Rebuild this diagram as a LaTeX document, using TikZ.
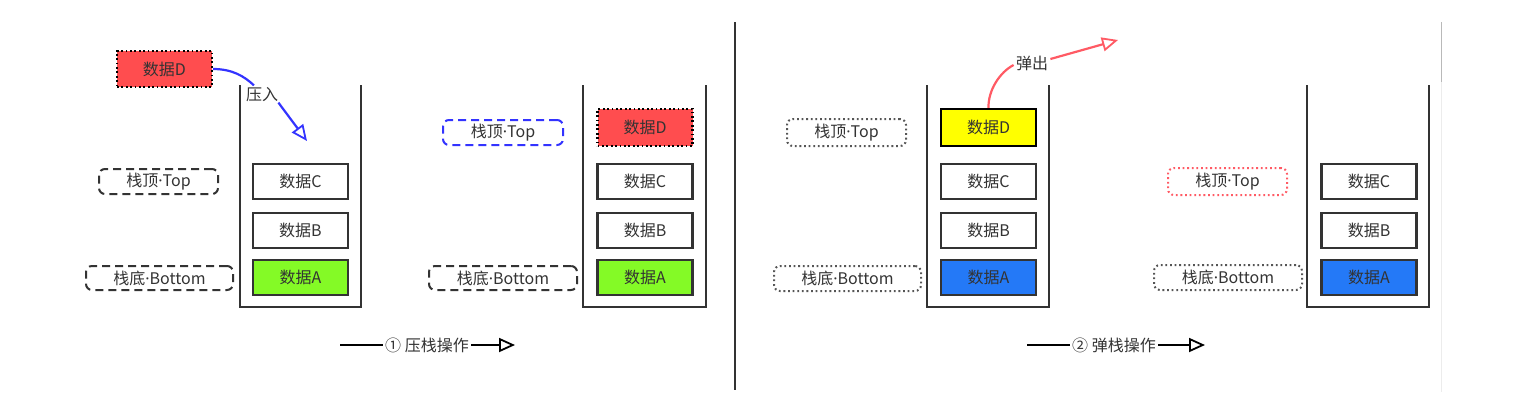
\documentclass[tikz,border=0pt]{standalone}
\usepackage{fontspec}
\newfontfamily\cjk{Noto Sans CJK SC}
\newfontfamily\lat{Noto Sans}
\usetikzlibrary{arrows.meta}
\definecolor{ink}{HTML}{333333}
\definecolor{dred}{HTML}{FF4D4F}
\definecolor{dgreen}{HTML}{84FA26}
\definecolor{dblue}{HTML}{2479F7}
\definecolor{dyellow}{HTML}{FFFF00}
\definecolor{pushblue}{HTML}{3333FF}
\definecolor{popred}{HTML}{FF5A64}
\definecolor{dotgray}{HTML}{555555}
\tikzset{
  every node/.style={font=\cjk\fontsize{8}{9.6}\selectfont, text=ink},
  databox/.style={draw=ink, line width=1.2pt, minimum width=47.5pt, minimum height=17.5pt, inner sep=0pt, fill=white},
  redbox/.style={databox, fill=dred, draw=black, dash pattern=on 0.9pt off 1.3pt, line width=1.1pt},
  container/.style={draw=ink, line width=1.2pt},
  lbl/.style={rounded corners=3pt, line width=1pt, minimum height=12.5pt, inner sep=0pt},
  dashlbl/.style={lbl, draw=ink, dash pattern=on 4pt off 2.5pt},
  dotlbl/.style={lbl, draw=dotgray, dash pattern=on 0.9pt off 1.4pt, minimum height=13.5pt},
  opentip/.style={-{Triangle[open, length=8pt, width=7pt, line width=0.9pt]}},
  oparrow/.style={draw=black, line width=0.8pt},
}
\begin{document}
\begin{tikzpicture}[x=0.5pt,y=-0.5pt]
\useasboundingbox (0,0) rectangle (1530,404);
% divider and right edge
\draw[ink, line width=1.2pt] (735,22) -- (735,390);
\draw[gray!55, line width=0.5pt] (1441,22) -- (1441,82);
\draw[gray!15, line width=0.5pt] (1441,82) -- (1441,392);

% ---------- stack 1 ----------
\draw[container] (240,85) |- (361,307) -- (361,85);
\node[databox] (s1c) at (300.5,181.5) {数据C};
\node[databox] (s1b) at (300.5,230.5) {数据B};
\node[databox, fill=dgreen] (s1a) at (300.5,277.5) {数据A};
\node[redbox, minimum height=18pt] (s1d) at (164.5,69) {数据D};
\node[dashlbl, minimum width=59.5pt] (s1top) at (158.5,181.5) {栈顶{\lat ·}Top};
\node[dashlbl, minimum width=73.5pt, minimum height=12pt] (s1bot) at (159.5,278) {栈底{\lat ·}Bottom};
\node[inner sep=1pt] (plbl) at (262,95) {压入};
\coordinate (ptip) at (307,141);
\draw[pushblue, line width=1.1pt] (s1d.east) .. controls (232,69) and (244,76) .. ([xshift=-4pt]plbl.north);
\draw[pushblue, line width=1.1pt, opentip] ([xshift=-1pt,yshift=1pt]plbl.south east) -- (ptip);

% ---------- stack 2 ----------
\draw[container] (583,85) |- (706,307) -- (706,85);
\node[redbox, minimum height=18.5pt] (s2d) at (645,127.5) {数据D};
\node[databox] (s2c) at (645,181.5) {数据C};
\node[databox] (s2b) at (645,230.5) {数据B};
\node[databox, fill=dgreen] (s2a) at (645,277.5) {数据A};
\node[dashlbl, draw=pushblue, minimum width=60pt] (s2top) at (503,132.5) {栈顶{\lat ·}Top};
\node[dashlbl, minimum width=74pt, minimum height=12pt] (s2bot) at (503,278) {栈底{\lat ·}Bottom};

% ---------- stack 3 ----------
\draw[container] (927,85) |- (1049,307) -- (1049,85);
\node[databox, fill=dyellow, draw=black, minimum height=18.5pt] (s3d) at (988.5,127.5) {数据D};
\node[databox] (s3c) at (988.5,181.5) {数据C};
\node[databox] (s3b) at (988.5,230.5) {数据B};
\node[databox, fill=dblue] (s3a) at (988.5,277.5) {数据A};
\node[dotlbl, minimum width=59.5pt] (s3top) at (846.5,132.5) {栈顶{\lat ·}Top};
\node[dotlbl, minimum width=73.5pt, minimum height=12.5pt] (s3bot) at (847.5,278.5) {栈底{\lat ·}Bottom};
\node[inner sep=1pt] (rlbl) at (1032,63) {弹出};
\coordinate (rtip) at (1118,40);
\draw[popred, line width=1.1pt] (s3d.north) .. controls (988,90) and (1000,72) .. ([yshift=-1pt]rlbl.west);
\draw[popred, line width=1.1pt, opentip] ([yshift=2pt]rlbl.east) -- (rtip);

% ---------- stack 4 ----------
\draw[container] (1307,85) |- (1429,307) -- (1429,85);
\node[databox] (s4c) at (1369,181.5) {数据C};
\node[databox] (s4b) at (1369,230.5) {数据B};
\node[databox, fill=dblue] (s4a) at (1369,277.5) {数据A};
\node[dotlbl, draw=popred, minimum width=59.5pt] (s4top) at (1227.5,181.5) {栈顶{\lat ·}Top};
\node[dotlbl, minimum width=74pt, minimum height=12.5pt] (s4bot) at (1228,277.5) {栈底{\lat ·}Bottom};

% ---------- operation arrows ----------
\node[inner sep=1pt] (op1) at (427,345) {① 压栈操作};
\coordinate (op1s) at (340,345);
\coordinate (op1e) at (515,345);
\draw[oparrow] (op1s) -- (op1.west);
\draw[oparrow, opentip] (op1.east) -- (op1e);
\node[inner sep=1pt] (op2) at (1114,345) {② 弹栈操作};
\coordinate (op2s) at (1027,345);
\coordinate (op2e) at (1205,345);
\draw[oparrow] (op2s) -- (op2.west);
\draw[oparrow, opentip] (op2.east) -- (op2e);
\end{tikzpicture}
\end{document}
